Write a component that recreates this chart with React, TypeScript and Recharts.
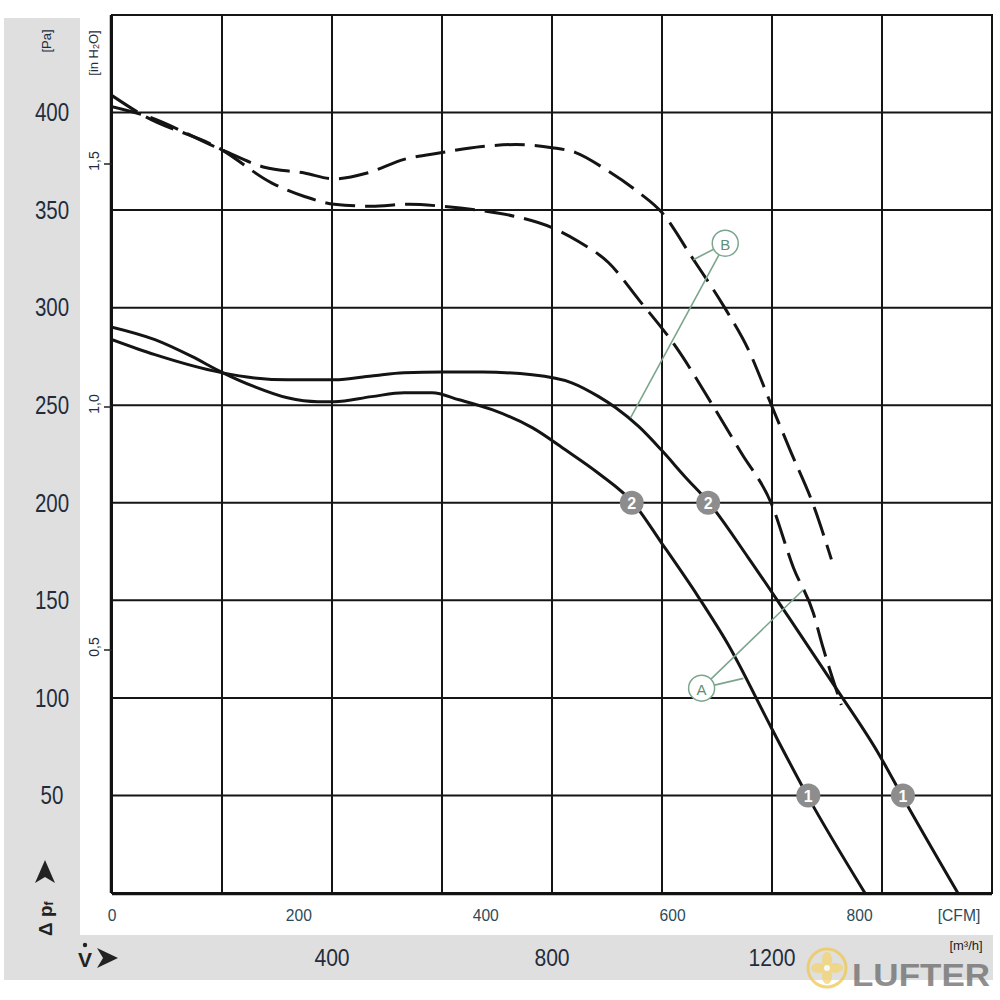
import React from "react";
import {
  LineChart,
  Line,
  XAxis,
  YAxis,
  CartesianGrid,
  ReferenceDot,
  ReferenceLine,
  ReferenceArea,
} from "recharts";

// ---------- axis ticks ----------
const FLOW_TICKS = [0, 200, 400, 600, 800, 1000, 1200, 1400, 1600]; // m³/h
const FLOW_LABELS = [400, 800, 1200];
const PA_TICKS = [0, 50, 100, 150, 200, 250, 300, 350, 400, 450];
const PA_LABELS = [50, 100, 150, 200, 250, 300, 350, 400];
const CFM_TICKS = [0, 200, 400, 600, 800];
const INH2O_TICKS = [0.5, 1.0, 1.5];
const INH2O_TEXT = ["0,5", "1,0", "1,5"];
const CFM_PER_M3H = 1 / 1.699;
const PA_PER_INH2O = 249.089;
const CFM_MAX = 1600 * CFM_PER_M3H;

// ---------- curves: [flow m³/h, pressure Pa] ----------
const curveB1 = [
  [0, 403], [54, 399], [199, 381], [277, 372], [350, 369], [404, 366], [464, 369],
  [531, 376], [600, 379.5], [673, 382.6], [734, 383.6], [800, 382], [843, 379.5],
  [898, 370.8], [958, 359], [999, 349], [1054, 326], [1115, 299.5], [1157, 278.5],
  [1199, 250], [1235, 225.6], [1275, 199], [1308, 171],
];
const curveB2 = [
  [0, 408.7], [54, 399], [199, 381], [290, 364], [350, 357], [404, 353], [472, 352],
  [540, 353], [600, 352], [673, 349.7], [734, 346.7], [800, 341], [849, 333.8],
  [903, 323], [958, 304], [1025, 280], [1092, 250], [1144, 225.6], [1199, 199.5],
  [1239, 166.7], [1275, 143.6], [1293, 125.6], [1326, 96.4],
];
const curveA1 = [
  [0, 290], [78, 283.6], [145, 275], [199, 267], [259, 259.5], [319, 253.8],
  [374, 251.8], [404, 251.8], [472, 254.4], [531, 256.4], [582, 256.4], [631, 252.8],
  [691, 247.7], [764, 238.5], [825, 227], [885, 215], [949, 199.5], [999, 179.5],
  [1066, 151.8], [1121, 127], [1199, 84.6], [1266, 49], [1369, 0],
];
const curveA2 = [
  [0, 283.6], [78, 275.9], [199, 266.7], [259, 264], [319, 263], [404, 263],
  [472, 265], [531, 266.7], [600, 267], [673, 267], [764, 265.6], [836, 261.5],
  [885, 254.4], [916, 248.7], [958, 239], [999, 227], [1043, 213], [1084, 200.5],
  [1157, 171.8], [1230, 141.5], [1320, 103.5], [1393, 71.8], [1438, 49], [1538, 0],
];

// ---------- numbered markers ----------
const markerQ = [945, 1084, 1266, 1438];
const markerP = [200, 200, 50, 50];
const markerText = ["2", "2", "1", "1"];

// ---------- A / B callouts ----------
const calloutText = ["B", "A"];
const calloutQ = [1115, 1072];
const calloutP = [333, 105];
const leaderFrom = [0, 0, 1, 1];
const leaderToQ = [1057, 943, 1257, 1148];
const leaderToP = [324.6, 243.6, 155.4, 110];

const toPts = (c: number[][]) => c.map(([q, p]) => ({ q, p }));
const cfmAnchor = [{ c: 0, p: 0 }, { c: CFM_MAX, p: 0 }];

const FONT = "'Liberation Sans', Arial, sans-serif";
const NAVY = "#1f2d3d";
const TEAL = "#2c4b58";
const GREEN = "#7ba68d";

const PaTick = (props: any) => {
  const { y, payload } = props;
  if (!PA_LABELS.includes(payload.value)) return <g />;
  return (
    <g transform={`translate(52,${y}) scale(0.82,1)`}>
      <text textAnchor="middle" dominantBaseline="central" fontSize={25} fill={NAVY} fontFamily={FONT}>
        {payload.value}
      </text>
    </g>
  );
};

const H2OTick = (props: any) => {
  const { y, payload } = props;
  const i = INH2O_TICKS.indexOf(payload.value);
  if (i < 0) return <g />;
  return (
    <g>
      <line x1={104} x2={112} y1={y} y2={y} stroke="#222" strokeWidth={1.5} />
      <text transform={`translate(94,${y - 3}) rotate(-90)`} textAnchor="middle" dominantBaseline="central" fontSize={14} fill={NAVY} fontFamily={FONT}>
        {INH2O_TEXT[i]}
      </text>
    </g>
  );
};

const FlowTick = (props: any) => {
  const { x, payload } = props;
  if (!FLOW_LABELS.includes(payload.value)) return <g />;
  return (
    <g transform={`translate(${x},958) scale(0.88,1)`}>
      <text textAnchor="middle" dominantBaseline="central" fontSize={24} fill={NAVY} fontFamily={FONT}>
        {payload.value}
      </text>
    </g>
  );
};

const CfmTick = (props: any) => {
  const { x, payload } = props;
  return (
    <g transform={`translate(${x},915) scale(0.92,1)`}>
      <text textAnchor="middle" dominantBaseline="central" fontSize={17} fill={TEAL} fontFamily={FONT}>
        {payload.value}
      </text>
    </g>
  );
};

const markerShape = (label: string) => (props: any) => (
  <g>
    <circle cx={props.cx} cy={props.cy} r={12} fill="#8d8d8d" />
    <text x={props.cx} y={props.cy + 1} textAnchor="middle" dominantBaseline="central" fill="#fff" fontWeight="bold" fontSize={16} fontFamily={FONT}>
      {label}
    </text>
  </g>
);

const calloutShape = (label: string) => (props: any) => (
  <g>
    <circle cx={props.cx} cy={props.cy} r={13} fill="#fff" stroke={GREEN} strokeWidth={1.5} />
    <text x={props.cx} y={props.cy + 1} textAnchor="middle" dominantBaseline="central" fill="#5f8f72" fontSize={15} fontFamily={FONT}>
      {label}
    </text>
  </g>
);

const curves = [
  { data: curveB1, dash: "30 10" },
  { data: curveB2, dash: "30 10" },
  { data: curveA1, dash: undefined },
  { data: curveA2, dash: undefined },
];

export default function App() {
  return (
    <div style={{ position: "absolute", left: 0, top: 0, width: 1000, height: 1000, background: "#fff", overflow: "hidden" }}>
      <div style={{ position: "absolute", left: 4, top: 18, width: 76, height: 962, background: "#dfdfdf" }} />
      <div style={{ position: "absolute", left: 4, top: 935, width: 989, height: 45, background: "#dfdfdf" }} />
      <div style={{ position: "absolute", left: 0, top: 0 }}>
        <LineChart width={1000} height={1000} margin={{ top: 15, right: 8, bottom: 105, left: 110 }}>
          <CartesianGrid xAxisId="flow" yAxisId="pa" stroke="#151515" strokeWidth={2} />
          <XAxis
            xAxisId="flow"
            dataKey="q"
            type="number"
            domain={[0, 1600]}
            ticks={FLOW_TICKS}
            allowDataOverflow
            height={1}
            axisLine={{ stroke: "#111", strokeWidth: 2.5 }}
            tickLine={false}
            tick={FlowTick}
            interval={0}
          />
          <XAxis
            xAxisId="cfm"
            dataKey="c"
            type="number"
            domain={[0, CFM_MAX]}
            ticks={CFM_TICKS}
            allowDataOverflow
            height={1}
            axisLine={false}
            tickLine={false}
            tick={CfmTick}
            interval={0}
          />
          <YAxis
            yAxisId="pa"
            type="number"
            domain={[0, 450]}
            ticks={PA_TICKS}
            allowDataOverflow
            width={1}
            axisLine={{ stroke: "#111", strokeWidth: 2.5 }}
            tickLine={false}
            tick={PaTick}
            interval={0}
          />
          <YAxis
            yAxisId="h2o"
            type="number"
            domain={[0, 450 / PA_PER_INH2O]}
            ticks={INH2O_TICKS}
            allowDataOverflow
            width={1}
            axisLine={false}
            tickLine={false}
            tick={H2OTick}
            interval={0}
          />
          <ReferenceArea
            xAxisId="flow"
            yAxisId="pa"
            x1={0}
            x2={1600}
            y1={0}
            y2={450}
            fill="none"
            stroke="#151515"
            strokeWidth={2}
            fillOpacity={0}
          />
          <Line
            xAxisId="cfm"
            yAxisId="pa"
            data={cfmAnchor}
            dataKey="p"
            dot={false}
            activeDot={false}
            stroke="transparent"
            strokeWidth={0}
            isAnimationActive={false}
          />
          {curves.map((c, i) => (
            <Line
              key={i}
              xAxisId="flow"
              yAxisId="pa"
              data={toPts(c.data)}
              dataKey="p"
              type="monotone"
              dot={false}
              activeDot={false}
              stroke="#141414"
              strokeWidth={3}
              strokeDasharray={c.dash}
              isAnimationActive={false}
            />
          ))}
          {leaderFrom.map((f, i) => (
            <ReferenceLine
              key={"l" + i}
              xAxisId="flow"
              yAxisId="pa"
              segment={[
                { x: calloutQ[f], y: calloutP[f] },
                { x: leaderToQ[i], y: leaderToP[i] },
              ]}
              stroke={GREEN}
              strokeWidth={1.6}
            />
          ))}
          {calloutText.map((t, i) => (
            <ReferenceDot
              key={"c" + i}
              xAxisId="flow"
              yAxisId="pa"
              x={calloutQ[i]}
              y={calloutP[i]}
              r={13}
              shape={calloutShape(t)}
            />
          ))}
          {markerText.map((t, i) => (
            <ReferenceDot
              key={"m" + i}
              xAxisId="flow"
              yAxisId="pa"
              x={markerQ[i]}
              y={markerP[i]}
              r={12}
              shape={markerShape(t)}
            />
          ))}
        </LineChart>
      </div>
      <svg width={1000} height={1000} style={{ position: "absolute", left: 0, top: 0, pointerEvents: "none" }}>
        <text transform="translate(46,41) rotate(-90)" textAnchor="middle" dominantBaseline="central" fontSize={13} fill={NAVY} fontFamily={FONT}>
          [Pa]
        </text>
        <text transform="translate(93,53) rotate(-90)" textAnchor="middle" dominantBaseline="central" fontSize={13} fill={NAVY} fontFamily={FONT}>
          [in H<tspan dy={3} fontSize={9}>2</tspan><tspan dy={-3}>O]</tspan>
        </text>
        <text transform="translate(45,936) rotate(-90)" textAnchor="start" dominantBaseline="central" fontSize={19} fontWeight="bold" fill="#222" fontFamily={FONT}>
          Δ p<tspan dy={4} fontSize={12}>f</tspan>
        </text>
        <polygon points="45,860 55,883 45,877 35,883" fill="#222" />
        <text x={85} y={967} textAnchor="middle" fontSize={21} fontWeight="bold" fill="#222" fontFamily={FONT}>
          V
        </text>
        <circle cx={85} cy={945} r={2.2} fill="#222" />
        <polygon points="118,958 97,948 103,958 97,968" fill="#222" />
        <g transform="translate(959,915) scale(0.92,1)">
          <text textAnchor="middle" dominantBaseline="central" fontSize={17} fill={TEAL} fontFamily={FONT}>
            [CFM]
          </text>
        </g>
        <text x={966} y={950} textAnchor="middle" fontSize={13} fill="#222" fontFamily={FONT}>
          [m³/h]
        </text>
        <g opacity={0.75}>
          <circle cx={827} cy={968} r={19} fill="none" stroke="#f0c850" strokeWidth={3} />
          <ellipse cx={827} cy={960} rx={5} ry={8} fill="#f3d370" />
          <ellipse cx={827} cy={976} rx={5} ry={8} fill="#f3d370" />
          <ellipse cx={819} cy={968} rx={8} ry={5} fill="#f3d370" />
          <ellipse cx={835} cy={968} rx={8} ry={5} fill="#f3d370" />
          <circle cx={827} cy={968} r={3} fill="#fff" />
          <text x={852} y={986} fontSize={32} fontWeight="bold" fill="#6a6a6a" fontFamily={FONT} textLength={138} lengthAdjust="spacingAndGlyphs">
            LUFTER
          </text>
        </g>
      </svg>
    </div>
  );
}
